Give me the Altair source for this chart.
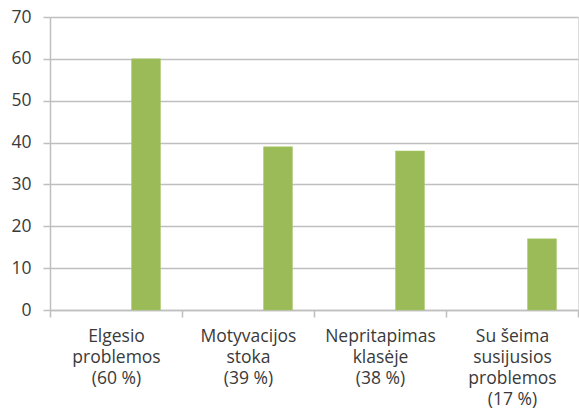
import altair as alt
import pandas as pd

categories = ["Elgesio|problemos|(60 %)", "Motyvacijos|stoka|(39 %)",
              "Nepritapimas|klasėje|(38 %)", "Su šeima|susijusios|problemos|(17 %)"]
values = [60, 39, 38, 17]
y_ticks = [0, 10, 20, 30, 40, 50, 60, 70]

df = pd.DataFrame({"cat": categories, "val": values})

FONT = "Open Sans"
GRID = "#BFBFBF"
TEXT = "#3A3A3A"

chart = alt.Chart(df).mark_bar(
    color="#9BBB59", stroke="#A9C96A", strokeWidth=0.5, width=29, xOffset=30
).encode(
    x=alt.X("cat:N", sort=categories, title=None,
            scale=alt.Scale(paddingInner=0, paddingOuter=0),
            axis=alt.Axis(labelAngle=0, labelExpr="split(datum.label, '|')",
                          labelFont=FONT, labelFontSize=17.5, labelColor=TEXT,
                          labelLineHeight=21, labelPadding=10, labelBaseline="top",
                          tickBand="extent", tickColor=GRID, tickSize=7, tickWidth=1.5,
                          domainColor=GRID, domainWidth=1.5, grid=False)),
    y=alt.Y("val:Q", title=None,
            scale=alt.Scale(domain=[0, 70], nice=False),
            axis=alt.Axis(values=y_ticks, labelFont=FONT, labelFontSize=17.5,
                          labelColor=TEXT, labelPadding=12, tickSize=7,
                          tickColor=GRID, tickWidth=1.5, domainColor=GRID,
                          domainWidth=1.5, gridColor=GRID, gridWidth=1.5)),
).properties(
    width=528, height=293,
    autosize=alt.AutoSizeParams(type="none"),
    padding={"left": 50, "top": 17, "right": 1, "bottom": 99},
).configure_view(stroke=None).configure(background="white")

chart.save("out.html", embed_options={"renderer": "svg", "actions": False})
